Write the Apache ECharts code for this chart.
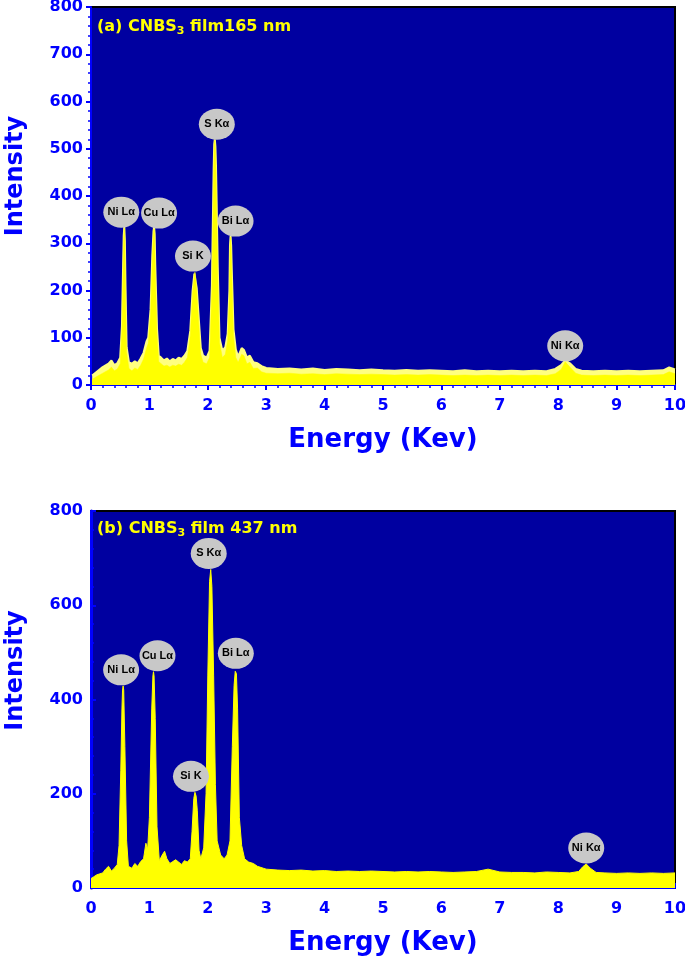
<!DOCTYPE html>
<html>
<head>
<meta charset="utf-8">
<script src="https://cdn.jsdelivr.net/npm/echarts@6/dist/echarts.min.js"></script>
<style>html,body{margin:0;padding:0;background:#fff;}#c{width:685px;height:957px;}</style>
</head>
<body>
<div id="c"></div>
<script>
// ---- Panel (a) data ----
const energyA = [
  0.02,0.10,0.20,0.30,0.35,0.40,0.45,0.50,0.53,0.55,
  0.56,0.57,0.58,0.59,0.61,0.65,0.70,0.75,0.80,0.85,
  0.90,0.95,0.98,1.02,1.05,1.07,1.08,1.09,1.10,1.13,
  1.16,1.20,1.25,1.30,1.35,1.40,1.45,1.50,1.55,1.60,
  1.65,1.70,1.74,1.77,1.78,1.79,1.81,1.84,1.88,1.92,
  1.98,2.03,2.07,2.10,2.11,2.12,2.13,2.14,2.17,2.20,
  2.25,2.30,2.34,2.37,2.38,2.39,2.40,2.41,2.44,2.48,
  2.52,2.58,2.62,2.67,2.72,2.78,2.85,2.92,3.00,3.20,
  3.40,3.60,3.80,4.00,4.20,4.40,4.60,4.80,5.00,5.20,
  5.40,5.60,5.80,6.00,6.20,6.40,6.60,6.80,7.00,7.20,
  7.40,7.60,7.80,7.95,8.05,8.12,8.20,8.30,8.40,8.60,
  8.80,9.00,9.20,9.40,9.60,9.80,9.90,10.00
];
const intensityA = [
  12,18,25,32,38,30,34,45,120,250,
  310,332,300,210,70,35,30,36,33,42,
  55,78,88,150,270,320,330,315,250,110,
  50,45,40,42,38,42,40,44,42,48,
  58,105,195,232,239,230,200,140,65,48,
  45,58,200,450,505,518,500,460,240,90,
  58,65,95,190,290,313,290,240,105,58,
  48,65,62,45,48,35,36,28,25,24,
  25,23,24,22,24,23,22,23,22,21,
  22,21,22,21,20,21,20,21,20,21,
  20,21,20,24,33,49,38,25,21,20,
  21,20,21,20,21,22,28,24
];
const envelopeA = [
  20,28,38,45,52,42,46,58,125,255,
  315,335,305,215,80,48,45,50,46,56,
  68,92,100,160,275,325,334,320,255,120,
  62,58,52,56,50,55,52,58,55,62,
  72,115,200,236,240,234,205,150,78,62,
  58,72,210,455,510,520,505,465,250,100,
  72,80,108,200,295,315,295,245,118,75,
  60,78,74,58,62,48,46,40,36,34,
  35,33,35,32,34,33,31,33,31,30,
  32,30,31,30,29,31,29,30,29,30,
  29,30,29,34,42,52,46,34,30,29,
  30,29,30,29,30,31,37,33
];
const peakNamesA = ['Ni Lα','Cu Lα','Si K','S Kα','Bi Lα','Ni Kα'];
const peakEnergiesA = [0.57,1.08,1.78,2.12,2.39,8.12];

// ---- Panel (b) data ----
const energyB = [
  0.00,0.05,0.10,0.15,0.20,0.25,0.30,0.35,0.40,0.45,
  0.48,0.51,0.53,0.54,0.55,0.56,0.58,0.61,0.64,0.70,
  0.75,0.80,0.85,0.90,0.94,0.97,1.00,1.04,1.06,1.07,
  1.08,1.10,1.13,1.17,1.22,1.26,1.30,1.35,1.40,1.45,
  1.50,1.55,1.60,1.65,1.70,1.73,1.76,1.78,1.80,1.82,
  1.85,1.88,1.93,1.97,2.00,2.03,2.05,2.07,2.10,2.13,
  2.16,2.22,2.28,2.33,2.38,2.42,2.45,2.47,2.48,2.49,
  2.51,2.54,2.58,2.63,2.70,2.78,2.85,2.95,3.00,3.20,
  3.40,3.60,3.80,4.00,4.20,4.40,4.60,4.80,5.00,5.20,
  5.40,5.60,5.80,6.00,6.20,6.40,6.60,6.80,7.00,7.20,
  7.40,7.60,7.80,8.00,8.20,8.35,8.42,8.48,8.55,8.65,
  8.80,9.00,9.20,9.40,9.60,9.80,10.00
];
const intensityB = [
  20,24,28,30,32,40,46,36,42,50,
  90,250,380,420,429,420,300,100,46,42,
  52,46,56,62,95,82,150,380,450,459,
  450,360,130,58,70,78,62,52,56,60,
  55,50,58,55,62,120,190,203,195,165,
  80,62,85,200,450,650,676,640,450,220,
  100,70,62,70,100,300,430,460,464,455,
  380,150,90,62,55,52,46,42,40,38,
  37,38,36,37,35,36,35,36,35,34,
  35,34,35,34,33,34,35,40,34,33,
  33,32,34,33,32,35,45,51,42,33,
  32,31,32,31,32,31,32
];
const peakNamesB = ['Ni Lα','Cu Lα','Si K','S Kα','Bi Lα','Ni Kα'];
const peakEnergiesB = [0.55,1.07,1.78,2.05,2.48,8.48];

const titleA = '(a) CNBS{s|3} film165 nm';
const titleB = '(b) CNBS{s|3} film 437 nm';
const xName = 'Energy (Kev)';
const yName = 'Intensity';

// ---- style ----
const BLUE = '#0000FF';
const BG = '#0000A0';
const FONT = 'DejaVu Sans';
const ELLIPSE = 'path://M0,15.5 A18,15.5 0 1,1 36,15.5 A18,15.5 0 1,1 0,15.5 Z';
const offsA = [[-3,-16],[5,-16],[-2,-16],[2,-16],[5,-16],[0,-16]];
const offsB = [[-2,-16],[4,-16],[-4,-16],[-2,-16],[0,-16],[0,-16]];

function pairs(xs, ys){ return xs.map((x,i)=>[x, ys[i]]); }
function marks(names, es, xs, ys, offs){
  return names.map((n,i)=>{
    const idx = xs.indexOf(es[i]);
    return {name:n, coord:[es[i], ys[idx]], symbolOffset:offs[i]};
  });
}

const chart = echarts.init(document.getElementById('c'), null, {renderer:'canvas'});

function xAxisCfg(gi, ticksOut){
  return {
    type:'value', gridIndex:gi, min:0, max:10, interval:1,
    name:xName, nameLocation:'middle', nameGap:42,
    nameTextStyle:{color:BLUE, fontFamily:FONT, fontWeight:'bold', fontSize:26},
    axisLine:{show:true, onZero:false, lineStyle:{color:BLUE, width:2}},
    axisTick:{show:true, inside:!ticksOut, length:5, lineStyle:{color:BLUE, width:2}},
    minorTick:{show:ticksOut, splitNumber:5, length:3, lineStyle:{color:BLUE, width:1.5}},
    splitLine:{show:false},
    axisLabel:{color:BLUE, fontFamily:FONT, fontWeight:'bold', fontSize:16, margin:13}
  };
}
function yAxisCfg(gi, interval, ticksOut, pad){
  return {
    type:'value', gridIndex:gi, min:0, max:800, interval:interval,
    name:yName, nameLocation:'middle', nameGap:63,
    nameTextStyle:{color:BLUE, fontFamily:FONT, fontWeight:'bold', fontSize:24, padding:[0,0,0,pad]},
    axisLine:{show:true, lineStyle:{color:BLUE, width:ticksOut?2:3}},
    axisTick:{show:true, inside:!ticksOut, length:5, lineStyle:{color:BLUE, width:2}},
    minorTick:{show:true, splitNumber:5, length:3, lineStyle:{color:BLUE, width:1.5}},
    splitLine:{show:false},
    axisLabel:{color:BLUE, fontFamily:FONT, fontWeight:'bold', fontSize:16, margin:8}
  };
}
function markCfg(data){
  return {
    symbol:ELLIPSE, symbolSize:[36,31],
    itemStyle:{color:'#C8C8C8'},
    label:{show:true, position:'inside', formatter:'{b}', color:'#000',
      fontFamily:'Liberation Sans', fontWeight:'bold', fontSize:11},
    data:data, animation:false
  };
}
const titleStyle = {
  color:'#FFFF00', fontFamily:FONT, fontWeight:'bold', fontSize:16,
  rich:{ s:{color:'#FFFF00', fontFamily:FONT, fontWeight:'bold', fontSize:11, padding:[9,0,0,0]} }
};

chart.setOption({
  animation:false,
  backgroundColor:'#fff',
  title:[
    {text:titleA, left:92, top:12, textStyle:titleStyle},
    {text:titleB, left:92, top:514, textStyle:titleStyle}
  ],
  grid:[
    {left:91, right:10, top:7, height:378, show:true, backgroundColor:BG, borderColor:'#000', borderWidth:2,
      containLabel:false, outerBoundsMode:'none'},
    {left:91, right:10, top:511, height:377, show:true, backgroundColor:BG, borderColor:'#000', borderWidth:2,
      containLabel:false, outerBoundsMode:'none'}
  ],
  xAxis:[xAxisCfg(0,true), xAxisCfg(1,false)],
  yAxis:[yAxisCfg(0,100,true,40), yAxisCfg(1,200,false,58)],
  series:[
    {type:'line', xAxisIndex:0, yAxisIndex:0, data:pairs(energyA, envelopeA), showSymbol:false,
      lineStyle:{color:'#FFFF80', width:2}, areaStyle:{color:'#FFFF80', opacity:1}, z:2},
    {type:'line', xAxisIndex:0, yAxisIndex:0, data:pairs(energyA, intensityA), showSymbol:false,
      lineStyle:{color:'#FFFF00', width:0.5}, areaStyle:{color:'#FFFF00', opacity:1}, z:3,
      markPoint:markCfg(marks(peakNamesA, peakEnergiesA, energyA, intensityA, offsA))},
    {type:'line', xAxisIndex:1, yAxisIndex:1, data:pairs(energyB, intensityB), showSymbol:false,
      lineStyle:{color:'#FFFF00', width:1}, areaStyle:{color:'#FFFF00', opacity:1}, z:3,
      markPoint:markCfg(marks(peakNamesB, peakEnergiesB, energyB, intensityB, offsB))}
  ]
});
</script>
</body>
</html>
